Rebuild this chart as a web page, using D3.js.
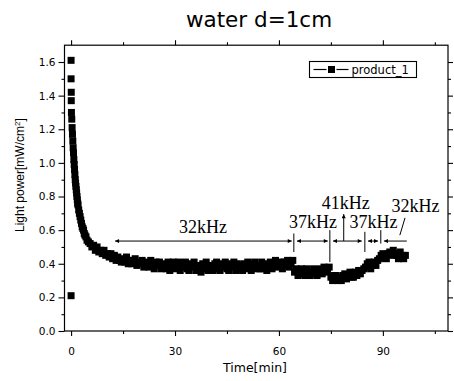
<!DOCTYPE html>
<html>
<head>
<meta charset="utf-8">
<script src="https://cdn.jsdelivr.net/npm/d3@7"></script>
<style>
  body { margin: 0; background: #fff; }
  svg { display: block; }
</style>
</head>
<body>
<div id="chart"></div>
<script>
// readings: time [min] vs light power [mW/cm2]
const decayTime = [0, 0, 0, 0.05, 0.05,
    0.1, 0.2, 0.3, 0.4, 0.5, 0.6, 0.7, 0.8, 0.9, 1.0, 1.1, 1.2, 1.3, 1.4, 1.5, 1.6, 1.7, 1.8, 1.9, 2.0,
    2.2, 2.4, 2.6, 2.8, 3.0, 3.2, 3.4, 3.6, 3.8, 4.0, 4.3, 4.6, 5.0,
    5.5, 6.0, 6.5, 7.0, 7.5, 8.0, 8.5, 9.0, 9.5, 10.0, 10.5, 11.0, 11.5, 12.0, 12.5, 13.0, 13.5, 14.0, 14.5];
const decayPower = [0.21, 1.61, 1.50, 1.42, 1.37,
    1.30, 1.26, 1.21, 1.17, 1.13, 1.09, 1.06, 1.02, 0.99, 0.96, 0.93, 0.90, 0.88, 0.86, 0.84, 0.82, 0.80, 0.78, 0.76, 0.75,
    0.72, 0.70, 0.68, 0.66, 0.64, 0.62, 0.61, 0.60, 0.58, 0.57, 0.56, 0.54, 0.53,
    0.52, 0.50, 0.51, 0.48, 0.50, 0.47, 0.48, 0.46, 0.48, 0.45, 0.46, 0.44, 0.46, 0.43, 0.45, 0.42, 0.44, 0.42, 0.41];

// later runs were logged every half minute
const SAMPLE_STEP = 0.5;
const power32a = [
    0.43, 0.41, 0.44, 0.40, 0.42, 0.40, 0.42, 0.43, 0.39, 0.41,
    0.40, 0.42, 0.38, 0.41, 0.40, 0.38, 0.42, 0.40, 0.37, 0.41,
    0.39, 0.41, 0.37, 0.40, 0.39, 0.37, 0.41, 0.36, 0.39, 0.41,
    0.37, 0.39, 0.41, 0.36, 0.39, 0.38, 0.41, 0.37, 0.36, 0.40,
    0.38, 0.41, 0.36, 0.39, 0.38, 0.35, 0.40, 0.37, 0.41, 0.36,
    0.39, 0.37, 0.36, 0.40, 0.41, 0.37, 0.36, 0.40, 0.38, 0.41,
    0.37, 0.36, 0.40, 0.38, 0.41, 0.36, 0.40, 0.37, 0.39, 0.36,
    0.40, 0.37, 0.41, 0.38, 0.36, 0.40, 0.41, 0.37, 0.39, 0.37,
    0.41, 0.37, 0.40, 0.36, 0.39, 0.41, 0.37, 0.40, 0.42, 0.38,
    0.39, 0.41, 0.37, 0.41, 0.39, 0.42, 0.38, 0.40, 0.42];
const power37a = [0.35, 0.37, 0.33, 0.35, 0.37, 0.34, 0.33, 0.37, 0.35, 0.33,
    0.35, 0.37, 0.34, 0.33, 0.36, 0.37, 0.34, 0.38, 0.35, 0.36, 0.38];
const power41 = [0.32, 0.30, 0.33, 0.33, 0.30, 0.32, 0.30, 0.33, 0.34, 0.31,
    0.33, 0.35, 0.32, 0.32, 0.35, 0.33, 0.36, 0.34, 0.36, 0.37];
const power37b = [0.38, 0.40, 0.41, 0.37, 0.39, 0.41, 0.39, 0.42];
const power32b = [0.43, 0.45, 0.46, 0.44, 0.43, 0.46, 0.47, 0.45, 0.48, 0.46, 0.45, 0.43, 0.47, 0.45, 0.43, 0.45];
const runStarts = [15, 64.5, 75, 85, 89];
const runPowers = [power32a, power37a, power41, power37b, power32b];

const xTicks = [0, 30, 60, 90];
const xMinor = [15, 45, 75, 105];
const yTicks = [0, 0.2, 0.4, 0.6, 0.8, 1.0, 1.2, 1.4, 1.6];
const yMinor = [0.1, 0.3, 0.5, 0.7, 0.9, 1.1, 1.3, 1.5];

// frequency annotations (data coords)
const freqLabels = ["32kHz", "37kHz", "41kHz", "37kHz", "32kHz"];
const freqLabelAt = [[38.1, 0.583], [69.8, 0.613], [79.3, 0.726], [87.3, 0.613], [99.4, 0.708]];
const freqSpans = [[12.7, 63.7], [65.2, 74.1], [75.6, 83.9], [85.7, 88.6], [90.3, 96.9]];
const spanHeads = [[true, true], [true, true], [true, true], [true, true], [true, false]];
const dividers = [[64.3, 0.47, 0.58], [74.7, 0.41, 0.6], [84.8, 0.47, 0.59], [89.4, 0.52, 0.6]];

const W = 454, H = 381;
const svg = d3.select("#chart").append("svg")
    .attr("width", W).attr("height", H)
    .style("background", "#fff");

const x = d3.scaleLinear().domain([-1.9, 108.8]).range([64.5, 448]);
const y = d3.scaleLinear().domain([0, 1.7]).range([331, 45.2]);

//Build the point list
const points = decayTime.map((t, i) => ({ t, p: decayPower[i] }));
runStarts.forEach((t0, k) => {
    runPowers[k].forEach((p, i) => points.push({ t: t0 + i * SAMPLE_STEP, p }));
});

const sans = "'DejaVu Sans', sans-serif";
const fix = g => {
    g.select(".domain").remove();
    g.selectAll("line").attr("stroke", "#000").attr("stroke-width", 1.1);
    g.selectAll("text").attr("font-family", sans).attr("font-size", 10.5).attr("fill", "#000");
};

//Axes, major + minor on all four sides
svg.append("g").attr("transform", `translate(0,${y(0)})`)
    .call(d3.axisBottom(x).tickValues(xTicks).tickSize(5).tickPadding(12).tickSizeOuter(0))
    .call(fix);
svg.append("g").attr("transform", `translate(0,${y(0)})`)
    .call(d3.axisBottom(x).tickValues(xMinor).tickSize(3).tickFormat("").tickSizeOuter(0))
    .call(fix);
svg.append("g").attr("transform", `translate(0,${y(1.7)})`)
    .call(d3.axisTop(x).tickValues(xTicks).tickSize(5).tickFormat("").tickSizeOuter(0))
    .call(fix);
svg.append("g").attr("transform", `translate(0,${y(1.7)})`)
    .call(d3.axisTop(x).tickValues(xMinor).tickSize(3).tickFormat("").tickSizeOuter(0))
    .call(fix);
svg.append("g").attr("transform", `translate(${x.range()[0]},0)`)
    .call(d3.axisLeft(y).tickValues(yTicks).tickSize(6).tickPadding(3).tickFormat(d3.format(".1f")).tickSizeOuter(0))
    .call(fix);
svg.append("g").attr("transform", `translate(${x.range()[0]},0)`)
    .call(d3.axisLeft(y).tickValues(yMinor).tickSize(3).tickFormat("").tickSizeOuter(0))
    .call(fix);
svg.append("g").attr("transform", `translate(${x.range()[1]},0)`)
    .call(d3.axisRight(y).tickValues(yTicks).tickSize(5).tickFormat("").tickSizeOuter(0))
    .call(fix);
svg.append("g").attr("transform", `translate(${x.range()[1]},0)`)
    .call(d3.axisRight(y).tickValues(yMinor).tickSize(3).tickFormat("").tickSizeOuter(0))
    .call(fix);

//Frame
svg.append("rect")
    .attr("x", x.range()[0]).attr("y", y(1.7))
    .attr("width", x.range()[1] - x.range()[0]).attr("height", y(0) - y(1.7))
    .attr("fill", "none").attr("stroke", "#000").attr("stroke-width", 1.2);

//Data squares
const S = 7;
svg.append("g").selectAll("rect")
    .data(points)
    .join("rect")
    .attr("x", d => x(d.t) - S / 2)
    .attr("y", d => y(d.p) - S / 2)
    .attr("width", S).attr("height", S)
    .attr("fill", "#000");

//Annotations
const defs = svg.append("defs");
defs.append("marker").attr("id", "head")
    .attr("viewBox", "0 0 10 10").attr("refX", 10).attr("refY", 5)
    .attr("markerWidth", 5).attr("markerHeight", 4).attr("orient", "auto-start-reverse")
    .attr("markerUnits", "userSpaceOnUse")
    .append("path").attr("d", "M0,0L10,5L0,10Z").attr("fill", "#000");

const ann = svg.append("g").attr("stroke", "#000").attr("stroke-width", 1);
const arrowY = 0.535;
freqSpans.forEach((s, i) => {
    ann.append("line")
        .attr("x1", x(s[0])).attr("x2", x(s[1]))
        .attr("y1", y(arrowY)).attr("y2", y(arrowY))
        .attr("marker-start", spanHeads[i][0] ? "url(#head)" : null)
        .attr("marker-end", spanHeads[i][1] ? "url(#head)" : null);
});
dividers.forEach(d => {
    ann.append("line")
        .attr("x1", x(d[0])).attr("x2", x(d[0]))
        .attr("y1", y(d[2])).attr("y2", y(d[1]));
});
// pointer up to the 41kHz label
ann.append("line")
    .attr("x1", x(78.7)).attr("x2", x(78.7))
    .attr("y1", y(arrowY)).attr("y2", y(0.695))
    .attr("marker-end", "url(#head)");
// slash to the last 32kHz label
ann.append("line")
    .attr("x1", x(96.4)).attr("x2", x(94.9))
    .attr("y1", y(0.673)).attr("y2", y(0.57));

svg.append("g").selectAll("text")
    .data(freqLabels)
    .join("text")
    .attr("x", (d, i) => x(freqLabelAt[i][0]))
    .attr("y", (d, i) => y(freqLabelAt[i][1]))
    .attr("text-anchor", "middle")
    .attr("font-family", "'Liberation Serif', 'Times New Roman', serif")
    .attr("font-size", 18)
    .attr("fill", "#000")
    .text(d => d);

//Title and axis titles
svg.append("text")
    .attr("x", 259).attr("y", 27)
    .attr("text-anchor", "middle")
    .attr("font-family", sans).attr("font-size", 21.5)
    .text("water d=1cm");
svg.append("text")
    .attr("x", 255).attr("y", 372)
    .attr("text-anchor", "middle")
    .attr("font-family", sans).attr("font-size", 12.5)
    .text("Time[min]");
const yl = svg.append("text")
    .attr("transform", `translate(24,${(y(0) + y(1.7)) / 2 - 13}) rotate(-90)`)
    .attr("text-anchor", "middle")
    .attr("font-family", "'Liberation Sans', Arial, sans-serif").attr("font-size", 12);
yl.append("tspan").text("Light power[mW/cm");
yl.append("tspan").attr("baseline-shift", "super").attr("font-size", 8).text("2");
yl.append("tspan").text("]");

//Legend
const lg = svg.append("g").attr("transform", "translate(309.5,61.5)");
lg.append("rect").attr("width", 107).attr("height", 16)
    .attr("fill", "#fff").attr("stroke", "#000").attr("stroke-width", 1.1);
lg.append("line").attr("x1", 4).attr("x2", 17).attr("y1", 8).attr("y2", 8)
    .attr("stroke", "#000").attr("stroke-width", 1.2);
lg.append("line").attr("x1", 27).attr("x2", 39).attr("y1", 8).attr("y2", 8)
    .attr("stroke", "#000").attr("stroke-width", 1.2);
lg.append("rect").attr("x", 22 - 3.5).attr("y", 8 - 3.5).attr("width", 7).attr("height", 7).attr("fill", "#000");
lg.append("text").attr("x", 42).attr("y", 12)
    .attr("font-family", sans).attr("font-size", 11.5)
    .text("product_1");
</script>
</body>
</html>
